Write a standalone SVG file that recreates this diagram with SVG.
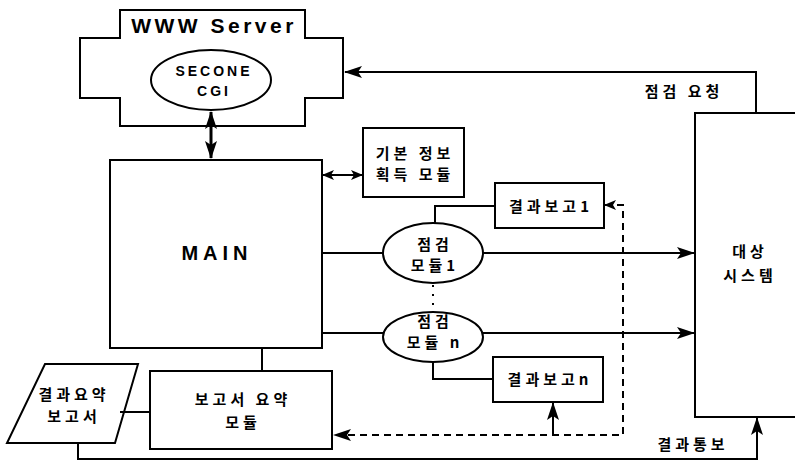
<svg xmlns="http://www.w3.org/2000/svg" width="795" height="461" viewBox="0 0 795 461">
<style>
.s{fill:none;stroke:#000;stroke-width:2}
.d{fill:none;stroke:#000;stroke-width:2;stroke-dasharray:7,5}
.k{font-family:"Noto Sans CJK KR","Noto Sans",sans-serif;font-weight:bold;font-size:15px;letter-spacing:4px;text-anchor:middle;fill:#000}
.e{font-family:"Liberation Sans",Arial,sans-serif;font-weight:bold;text-anchor:middle;fill:#000}
</style>
<defs>
<marker id="a" markerWidth="18" markerHeight="12" refX="17" refY="6" orient="auto" markerUnits="userSpaceOnUse">
<path d="M0,0 L18,6 L0,12 L4,6 Z" fill="#000"/>
</marker>
<marker id="b" markerWidth="18" markerHeight="12" refX="1" refY="6" orient="auto" markerUnits="userSpaceOnUse">
<path d="M18,0 L0,6 L18,12 L14,6 Z" fill="#000"/>
</marker>
<marker id="a2" markerWidth="12" markerHeight="10" refX="11" refY="5" orient="auto" markerUnits="userSpaceOnUse">
<path d="M0,0 L12,5 L0,10 L3,5 Z" fill="#000"/>
</marker>
<marker id="b2" markerWidth="12" markerHeight="10" refX="1" refY="5" orient="auto" markerUnits="userSpaceOnUse">
<path d="M12,0 L0,5 L12,10 L9,5 Z" fill="#000"/>
</marker>
</defs>
<rect width="795" height="461" fill="#fff"/>

<g id="www-server">
<path class="s" d="M120,10 H305 V38 H343 V98 H305 V126 H120 V98 H80 V38 H120 Z"/>
<text class="e" x="214" y="33" font-size="21" letter-spacing="3.5">WWW Server</text>
</g>
<g id="secone-cgi">
<ellipse class="s" cx="211" cy="80" rx="60" ry="30"/>
<text class="e" x="214" y="76" font-size="14" letter-spacing="3">SECONE</text>
<text class="e" x="214" y="96" font-size="14" letter-spacing="3">CGI</text>
</g>
<g id="main">
<rect class="s" x="110" y="160" width="212" height="188"/>
<text class="e" x="217" y="260" font-size="20" letter-spacing="5">MAIN</text>
</g>
<g id="basic-info">
<rect class="s" x="363" y="128" width="101" height="69"/>
<text class="k" x="415" y="159">기본 정보</text>
<text class="k" x="415" y="180">획득 모듈</text>
</g>
<g id="report1">
<rect class="s" x="495" y="183" width="109" height="45"/>
<text class="k" x="551" y="212">결과보고1</text>
</g>
<g id="check1">
<ellipse class="s" cx="433" cy="253" rx="50" ry="30"/>
<text class="k" x="435" y="250">점검</text>
<text class="k" x="435" y="271">모듈1</text>
</g>
<g id="checkn">
<ellipse class="s" cx="433" cy="337" rx="50" ry="25"/>
<text class="k" x="435" y="327">점검</text>
<text class="k" x="435" y="348">모듈 n</text>
</g>
<g id="reportn">
<rect class="s" x="493" y="357" width="110" height="45"/>
<text class="k" x="550" y="385">결과보고n</text>
</g>
<g id="summary-module">
<rect class="s" x="150" y="371" width="182" height="78"/>
<text class="k" x="243" y="405">보고서 요약</text>
<text class="k" x="243" y="428">모듈</text>
</g>
<g id="summary-report">
<path class="s" d="M45,364 H138 L115,443 H7 Z"/>
<text class="k" x="74" y="400">결과요약</text>
<text class="k" x="74" y="422">보고서</text>
</g>
<g id="target-system">
<path class="s" d="M797,113 H695 V417 H797"/>
<text class="k" x="750" y="257">대상</text>
<text class="k" x="750" y="281">시스템</text>
</g>

<g id="connectors">
<line x1="211" y1="112" x2="211" y2="158" stroke="#000" stroke-width="3" marker-start="url(#b)" marker-end="url(#a)"/>
<line class="s" x1="323" y1="175" x2="362" y2="175" marker-start="url(#b2)" marker-end="url(#a2)"/>
<path class="s" d="M756,113 V72 H345" marker-end="url(#a)"/>
<line class="s" x1="322" y1="253" x2="383" y2="253"/>
<line class="s" x1="483" y1="253" x2="694" y2="253" marker-end="url(#a)"/>
<line class="s" x1="322" y1="333" x2="383" y2="333"/>
<line class="s" x1="483" y1="333" x2="694" y2="333" marker-end="url(#a)"/>
<path class="s" d="M495,206 H435 V223"/>
<path class="s" d="M433,362 V379 H493"/>
<line x1="433" y1="285" x2="433" y2="313" stroke="#000" stroke-width="2" stroke-dasharray="2,7"/>
<path class="d" d="M605,205 H623 V435 H334" marker-start="url(#b2)" marker-end="url(#a)"/>
<line class="s" x1="553" y1="435" x2="553" y2="403" marker-end="url(#a)"/>
<line class="s" x1="120" y1="412" x2="150" y2="412"/>
<line class="s" x1="262" y1="348" x2="262" y2="371"/>
<path class="s" d="M78,443 V459 H757 V418" marker-end="url(#a)"/>
</g>
<g id="labels">
<text class="k" x="684" y="97">점검 요청</text>
<text class="k" x="693" y="450">결과통보</text>
</g>
</svg>
